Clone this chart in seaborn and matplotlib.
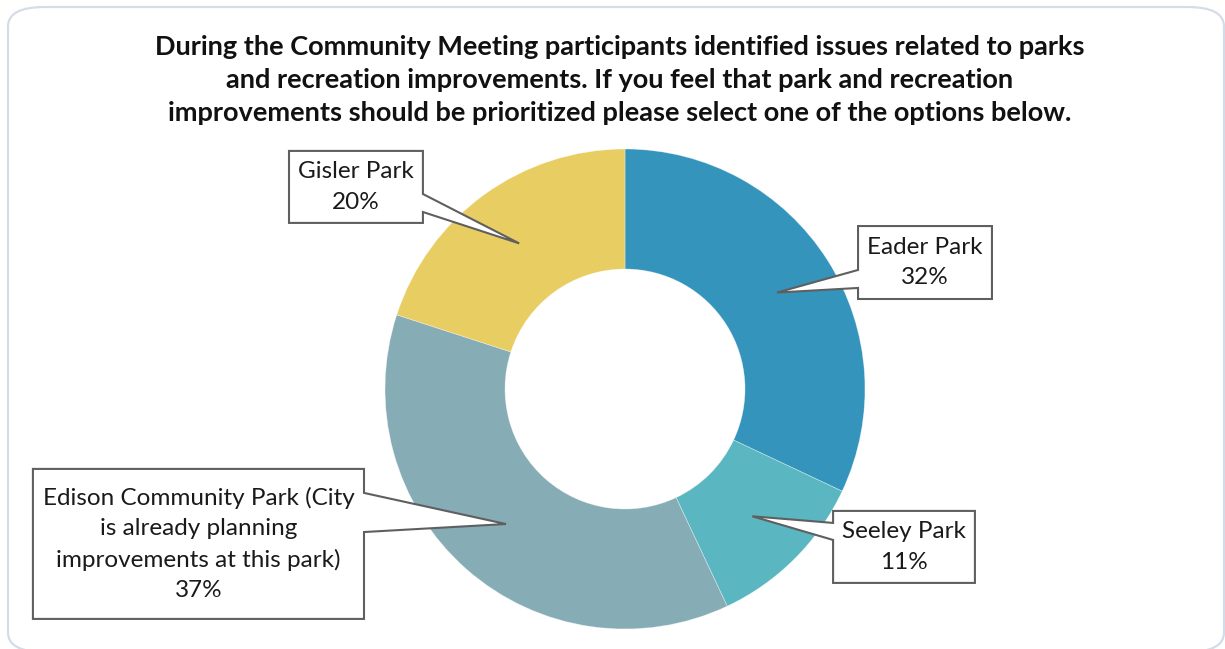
import matplotlib
matplotlib.use("Agg")
import matplotlib.pyplot as plt
from matplotlib.patches import Polygon, FancyBboxPatch
import numpy as np
import seaborn as sns

# Survey responses (share of participants)
parks = ["Eader Park", "Seeley Park",
         "Edison Community Park (City\nis already planning\nimprovements at this park)",
         "Gisler Park"]
shares = [32, 11, 37, 20]
colors = ["#3594BB", "#5AB6C0", "#86ACB6", "#E8CD62"]

title = ("During the Community Meeting participants identified issues related to parks\n"
         "and recreation improvements. If you feel that park and recreation\n"
         "improvements should be prioritized please select one of the options below.")

# Callout boxes (x0, x1, y_bottom, y_top) in pie units, pointer side and pointer edge span
boxes = [
    (0.971, 1.529, 0.375, 0.679, "left", (0.496, 0.421)),
    (0.867, 1.458, -0.808, -0.508, "left", (-0.558, -0.629)),
    (-2.467, -1.0875, -0.958, -0.333, "right", (-0.433, -0.596)),
    (-1.400, -0.842, 0.692, 0.992, "right", (0.8125, 0.7375)),
]

sns.set_theme(style="white")
plt.rcParams["font.family"] = ["Lato", "DejaVu Sans"]

W, H, DPI = 1225, 649, 100
fig = plt.figure(figsize=(W / DPI, H / DPI), dpi=DPI)
fig.patch.set_facecolor("white")
ax = fig.add_axes([0, 0, 1, 1])

# outer frame
frame = FancyBboxPatch((8 / W, 1 - 652 / H), (1224 - 8) / W, (652 - 7) / H,
                       boxstyle="round,pad=0,rounding_size=0.03",
                       transform=fig.transFigure, facecolor="none",
                       edgecolor="#D3DDE8", linewidth=1.6, zorder=0)
fig.patches.append(frame)

wedges, _ = ax.pie(shares, colors=colors, startangle=90, counterclock=False,
                   radius=1.0,
                   wedgeprops=dict(width=0.5, edgecolor=(1, 1, 1, 0.45), linewidth=0.5))

# pie centre sits at pixel (625, 389) with 240 px per unit radius
scale = 240.0
cx, cy = 625.0, 389.0
ax.set_xlim(-cx / scale, (W - cx) / scale)
ax.set_ylim((cy - H) / scale, cy / scale)
ax.set_aspect("equal")
ax.axis("off")

total = float(sum(shares))
cum = np.cumsum([0] + shares[:-1])
for i, (name, val) in enumerate(zip(parks, shares)):
    mid = (cum[i] + val / 2) / total * 360.0
    theta = np.deg2rad(90 - mid)
    tip = (0.75 * np.cos(theta), 0.75 * np.sin(theta))
    x0, x1, yb, yt, side, (pa, pb) = boxes[i]
    if side == "right":
        verts = [(x0, yt), (x1, yt), (x1, pa), tip, (x1, pb), (x1, yb), (x0, yb)]
    else:
        verts = [(x0, yt), (x1, yt), (x1, yb), (x0, yb), (x0, pb), tip, (x0, pa)]
    ax.add_patch(Polygon(verts, closed=True, facecolor="white", edgecolor="#5F5F5F",
                         linewidth=1.5, zorder=5))
    ax.text((x0 + x1) / 2, (yb + yt) / 2, f"{name}\n{val}%", ha="center", va="center",
            fontsize=17.5, color="#1A1A1A", linespacing=1.55, zorder=6)

fig.text(620 / W, 1 - 80 / H, title, ha="center", va="center", fontsize=19.5,
         fontweight="bold", color="#111111", linespacing=1.45)

fig.savefig("out.png", dpi=DPI)
